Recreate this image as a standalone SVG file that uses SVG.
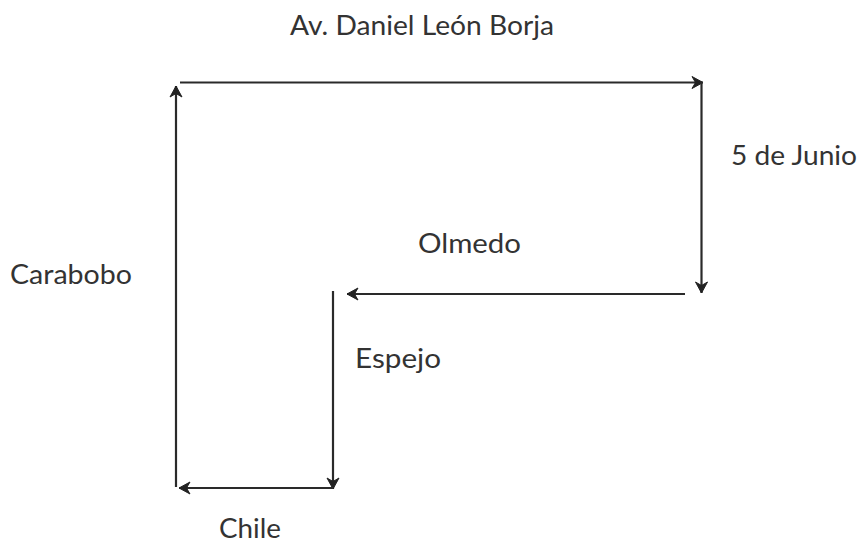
<svg xmlns="http://www.w3.org/2000/svg" width="862" height="544" viewBox="0 0 862 544">
<style>
.c{fill:none;stroke:#2a2a2a;stroke-width:2.200;marker-end:url(#a)}
text{font-family:Lato,"Open Sans","Liberation Sans",sans-serif;font-size:27px;fill:#333}
</style>
<defs><marker id="a" markerUnits="userSpaceOnUse" markerWidth="16" markerHeight="16" refX="13" refY="8" orient="auto"><path d="M2 2L13 8L2 14L5.500 8Z" fill="#222" stroke="#222" stroke-width="1"/></marker></defs>
<rect width="862" height="544" fill="#fff"/>
<g id="connectors">
<path class="c" d="M180 82.500H703"/>
<path class="c" d="M701.500 82V293"/>
<path class="c" d="M685 294H347"/>
<path class="c" d="M333 291V489"/>
<path class="c" d="M333 488H179"/>
<path class="c" d="M176 487V86"/>
</g>
<g id="top"><text x="290" y="35" textLength="264" lengthAdjust="spacingAndGlyphs">Av. Daniel León Borja</text></g>
<g id="junio"><text x="731" y="165" textLength="126" lengthAdjust="spacingAndGlyphs">5 de Junio</text></g>
<g id="olmedo"><text x="418" y="253" textLength="103" lengthAdjust="spacingAndGlyphs">Olmedo</text></g>
<g id="carabobo"><text x="10" y="284" textLength="122" lengthAdjust="spacingAndGlyphs">Carabobo</text></g>
<g id="espejo"><text x="355" y="368" textLength="86" lengthAdjust="spacingAndGlyphs">Espejo</text></g>
<g id="chile"><text x="219" y="538" textLength="62" lengthAdjust="spacingAndGlyphs">Chile</text></g>
</svg>
